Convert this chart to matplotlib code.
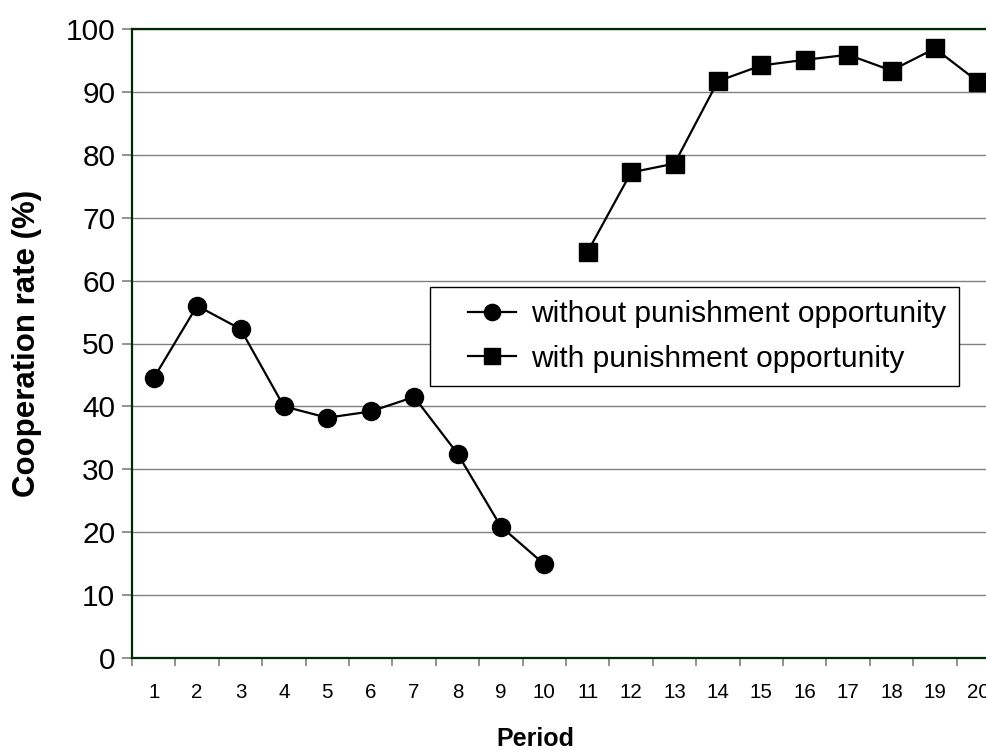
import matplotlib
matplotlib.use("Agg")
import matplotlib.pyplot as plt
from matplotlib.ticker import FixedLocator, NullFormatter, FixedFormatter
from matplotlib.legend_handler import HandlerLine2D

periods_without = [1, 2, 3, 4, 5, 6, 7, 8, 9, 10]
rate_without = [44.5, 56.0, 52.3, 40.0, 38.2, 39.2, 41.5, 32.5, 20.9, 14.9]
periods_with = [11, 12, 13, 14, 15, 16, 17, 18, 19, 20]
rate_with = [64.6, 77.2, 78.6, 91.7, 94.2, 95.1, 95.9, 93.4, 96.9, 91.6]
tick_labels = [str(i) for i in range(1, 21)]
y_ticks = [0, 10, 20, 30, 40, 50, 60, 70, 80, 90, 100]
label_without = "without punishment opportunity"
label_with = "with punishment opportunity"

plt.rcParams['font.family'] = ['Liberation Sans', 'DejaVu Sans']

W, H = 986, 751
fig = plt.figure(figsize=(W / 100, H / 100), dpi=100)
left, right, bottom, top = 132, 1000, 658, 29
ax = fig.add_axes([left / W, (H - bottom) / H, (right - left) / W, (bottom - top) / H])

l1, = ax.plot(periods_without, rate_without, color='black', lw=1.6, marker='o',
              markersize=13, markerfacecolor='black', markeredgecolor='black',
              label=label_without, zorder=3, clip_on=False)
l2, = ax.plot(periods_with, rate_with, color='black', lw=1.6, marker='s',
              markersize=13, markerfacecolor='black', markeredgecolor='black',
              label=label_with, zorder=3, clip_on=False)

ax.set_xlim(0.5, 20.5)
ax.set_ylim(0, 100)
ax.set_yticks(y_ticks)
ax.yaxis.grid(True, color='#808080', lw=1.0)
ax.set_axisbelow(True)

ax.xaxis.set_major_locator(FixedLocator([i + 0.5 for i in range(0, 21)]))
ax.xaxis.set_major_formatter(NullFormatter())
ax.xaxis.set_minor_locator(FixedLocator(list(range(1, 21))))
ax.xaxis.set_minor_formatter(FixedFormatter(tick_labels))
ax.tick_params(axis='x', which='major', direction='out', length=6, color='#808080', width=1.2)
ax.tick_params(axis='x', which='minor', length=0, pad=18, labelsize=14.8)
ax.tick_params(axis='y', direction='out', length=7, color='#808080', width=1.2,
               pad=5, labelsize=21.5)

spine_color = '#002a00'
for s in ['left', 'top', 'bottom', 'right']:
    ax.spines[s].set_color(spine_color)
    ax.spines[s].set_linewidth(1.6)

ax.set_ylabel("Cooperation rate (%)", fontsize=22.5, fontweight='bold')
ax.yaxis.set_label_coords(-0.104, 0.5)
ax.set_xlabel("Period", fontsize=18, fontweight='bold')
ax.xaxis.set_label_coords(0.465, -0.110)

hmap = {l1: HandlerLine2D(xpad=0.83), l2: HandlerLine2D(xpad=0.83)}
leg = ax.legend(handles=[l1, l2], handler_map=hmap,
                loc='upper left', bbox_to_anchor=(0.343, 0.590), borderaxespad=0,
                fontsize=21.5, frameon=True, fancybox=False, edgecolor='black',
                framealpha=1, markerscale=0.9, handlelength=2.43, handletextpad=0.5,
                labelspacing=0.55, borderpad=0.45)
leg.get_frame().set_linewidth(1.0)

fig.savefig("out.png", dpi=100)
